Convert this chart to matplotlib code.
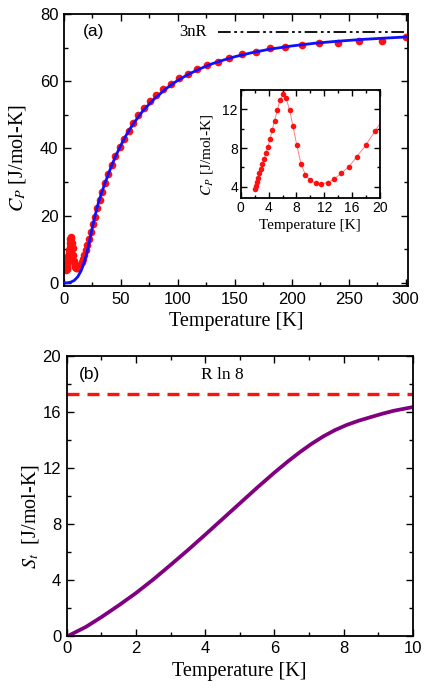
import numpy as np
import matplotlib
matplotlib.use("Agg")
import matplotlib.pyplot as plt
from matplotlib.ticker import MultipleLocator

plt.rcParams['font.family'] = ['Liberation Sans', 'DejaVu Sans']
plt.rcParams['mathtext.fontset'] = 'stix'

# measured heat capacity, low-T part (inset region)
T_low = [2.07, 2.21, 2.36, 2.5, 2.69, 2.89, 3.12, 3.37, 3.61, 3.9, 4.19, 4.52,
         4.86, 5.25, 5.63, 6.11, 6.5, 7.03, 7.5, 8.04, 8.65, 9.3, 10.0, 10.78,
         11.56, 12.47, 13.44, 14.4, 15.55, 16.66, 17.96, 19.26, 20.6]
Cp_low = [3.73, 4.14, 4.52, 4.93, 5.39, 5.83, 6.32, 6.86, 7.48, 8.1, 8.9, 9.83,
          10.83, 11.9, 12.93, 13.55, 13.2, 11.9, 10.28, 8.34, 6.4, 5.22, 4.66, 4.35,
          4.31, 4.45, 4.83, 5.39, 6.1, 7.1, 8.31, 9.73, 11.2]

# measured heat capacity above 20 K
T_high = [22.2, 23.8, 25.4, 27.2, 29.2, 31.3, 33.6, 36.1, 38.9, 41.9, 45.2, 48.8,
          52.6, 56.7, 60.9, 65.0, 70.0, 75.2, 80.8, 87.2, 93.7, 100.7, 108.6, 117,
          125.8, 135.5, 145, 156, 168.6, 181, 194, 209, 224, 241, 259, 279, 300]
Cp_high = [13.0, 15.2, 17.4, 19.7, 22.2, 24.7, 27.2, 29.8, 32.4, 35.1, 37.8, 40.4,
           42.8, 45.3, 47.6, 50.0, 52.0, 54.1, 55.9, 57.6, 59.2, 60.9, 62.3, 63.5,
           64.7, 65.8, 66.8, 68.0, 68.8, 69.8, 70.3, 70.8, 71.3, 71.3, 72.1, 72.1, 73.3]

# lattice fit curve (blue)
T_fit = [0, 3, 6, 9, 12, 15, 18, 20, 22, 24, 26, 28, 30, 33, 36, 40, 45, 50, 55,
         60, 65, 70, 80, 90, 100, 110, 120, 130, 140, 150, 165, 180, 200, 220,
         240, 260, 280, 302]
Cp_fit = [0.0, 0.05, 0.25, 0.75, 1.8, 3.6, 6.4, 8.8, 11.8, 15.0, 18.2, 21.0, 23.6,
          26.8, 29.7, 33.3, 37.5, 41.0, 44.2, 46.9, 49.3, 51.5, 55.0, 57.9, 60.3,
          62.2, 63.8, 65.2, 66.3, 67.3, 68.5, 69.5, 70.5, 71.3, 71.9, 72.4, 72.8, 73.2]

three_nR = 74.6
T_3nR = [135, 302]

# entropy (panel b)
T_S = [0.05, 0.56, 1.02, 1.52, 2.0, 2.5, 3.0, 3.5, 4.0, 4.5, 5.0, 5.5,
       6.0, 6.4, 6.74, 7.08, 7.42, 7.75, 8.09, 8.43, 8.77, 9.1, 9.44, 10.0]
S_t = [0.0, 0.64, 1.36, 2.2, 3.05, 4.02, 5.06, 6.12, 7.22, 8.34, 9.46, 10.58,
       11.66, 12.48, 13.13, 13.73, 14.26, 14.7, 15.07, 15.37, 15.62, 15.86, 16.08, 16.35]
R_ln8 = 17.3

serif = 'Liberation Serif'


def style_axes(ax, labsize, major_len=5, minor_len=3):
    ax.tick_params(which='both', direction='in', top=True, right=True,
                   labelsize=labsize, width=1.0)
    ax.tick_params(which='major', length=major_len, pad=4)
    ax.tick_params(which='minor', length=minor_len)
    for s in ax.spines.values():
        s.set_linewidth(1.3)


fig = plt.figure(figsize=(4.31, 6.97), dpi=100)

# ---- panel (a)
ax1 = fig.add_axes([0.1485, 0.5897, 0.7980, 0.3902])
T_all = T_low + T_high
Cp_all = Cp_low + Cp_high
ax1.plot(T_all, Cp_all, 'o', color='#ff1010', ms=5.5, mec='none', zorder=2)
ax1.plot(T_fit, Cp_fit, '-', color='#1010ff', lw=2, zorder=3)
ax1.plot(T_3nR, [three_nR, three_nR], color='black', lw=1.3,
         dashes=[7, 2, 1.5, 2, 1.5, 2])
ax1.text(113, three_nR, '3nR', family=serif, fontsize=12, ha='center', va='center')
ax1.text(0.055, 0.935, '(a)', transform=ax1.transAxes, fontsize=12.5,
         ha='left', va='center')
ax1.set_xlim(0, 302)
ax1.set_ylim(-0.9, 80)
ax1.xaxis.set_major_locator(MultipleLocator(50))
ax1.xaxis.set_minor_locator(MultipleLocator(25))
ax1.yaxis.set_major_locator(MultipleLocator(20))
ax1.yaxis.set_minor_locator(MultipleLocator(10))
style_axes(ax1, 12)
ax1.set_xlabel('Temperature [K]', family=serif, fontsize=14.5, va='center')
ax1.xaxis.set_label_coords(0.5, -0.132)
ax1.set_ylabel(r'$C_P$ [J/mol-K]', family=serif, fontsize=14.5, va='center')
ax1.yaxis.set_label_coords(-0.134, 0.472)

# ---- inset
axi = fig.add_axes([0.5585, 0.7159, 0.3232, 0.1550])
axi.plot(T_low, Cp_low, '-', color='#ff8080', lw=0.7, zorder=1)
axi.plot(T_low, Cp_low, 'o', color='#ff1010', ms=4, mec='none', zorder=2)
axi.set_xlim(0, 20)
axi.set_ylim(2.85, 14.0)
axi.xaxis.set_major_locator(MultipleLocator(4))
axi.xaxis.set_minor_locator(MultipleLocator(2))
axi.yaxis.set_major_locator(MultipleLocator(4))
axi.yaxis.set_minor_locator(MultipleLocator(2))
style_axes(axi, 10, major_len=4, minor_len=2)
axi.tick_params(which='major', pad=2)
axi.set_xlabel('Temperature [K]', family=serif, fontsize=11, va='center')
axi.xaxis.set_label_coords(0.5, -0.256)
axi.set_ylabel(r'$C_P$ [J/mol-K]', family=serif, fontsize=11, va='center')
axi.yaxis.set_label_coords(-0.242, 0.398)

# ---- panel (b)
ax2 = fig.add_axes([0.1548, 0.0879, 0.8028, 0.4013])
ax2.plot(T_S, S_t, '-', color='#800080', lw=2.7, solid_capstyle='butt',
         solid_joinstyle='round')
ax2.axhline(R_ln8, color='#ff1010', lw=2.4, dashes=[3.6, 2.4])
ax2.text(4.5, 18.64, 'R ln 8', family=serif, fontsize=12.5, ha='center', va='center')
ax2.text(0.035, 0.935, '(b)', transform=ax2.transAxes, fontsize=12.5,
         ha='left', va='center')
ax2.set_xlim(0, 10)
ax2.set_ylim(0, 20)
ax2.xaxis.set_major_locator(MultipleLocator(2))
ax2.xaxis.set_minor_locator(MultipleLocator(1))
ax2.yaxis.set_major_locator(MultipleLocator(4))
ax2.yaxis.set_minor_locator(MultipleLocator(2))
style_axes(ax2, 12)
ax2.set_xlabel('Temperature [K]', family=serif, fontsize=14.5, va='center')
ax2.xaxis.set_label_coords(0.5, -0.129)
ax2.set_ylabel(r'$S_t$  [J/mol-K]', family=serif, fontsize=14.5, va='center')
ax2.yaxis.set_label_coords(-0.106, 0.425)

fig.savefig('out.png', dpi=100)
